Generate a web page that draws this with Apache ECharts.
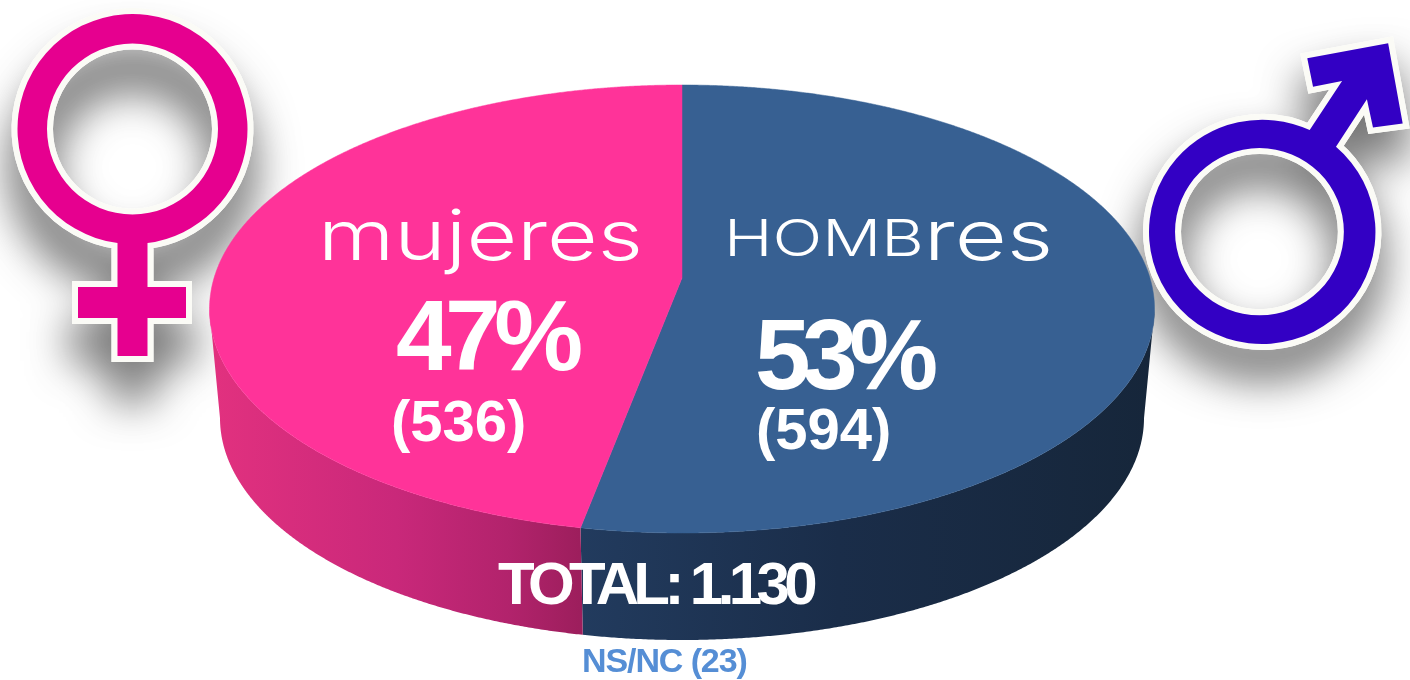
<!DOCTYPE html>
<html><head><meta charset="utf-8">
<style>html,body{margin:0;padding:0;background:#fff}#c{width:1410px;height:680px}</style>
<script src="https://cdn.jsdelivr.net/npm/echarts@6/dist/echarts.min.js"></script>
</head><body><div id="c"></div>
<script>
const categories = ['HOMBres', 'mujeres'];
const sharePct = [53, 47];
const shareLabels = ['53%', '47%'];
const counts = ['(594)', '(536)'];
const totalLabel = 'TOTAL: 1.130';
const noAnswerLabel = 'NS/NC (23)';

const topFace = {cx: 682, cy: 309, rx: 472.5, ry: 224, apexY: 278};
const baseFace = {cx: 682, cy: 418, rx: 462, ry: 222};
const topColors = ['#376092', '#ff3399'];
const sideColors = [
  [[0, '#223b5e'], [0.45, '#1a2d49'], [1, '#16263a']],
  [[0, '#e2317f'], [0.5, '#c9287a'], [0.8, '#b2236c'], [1, '#9c1e5c']]
];
const femalePath = 'M117.5,243 A115,115 0 1 1 147.5,243 L147.5,287 L186,287 L186,318 L147.5,318 L147.5,356 L117.5,356 L117.5,318 L78,318 L78,287 L117.5,287 Z M132.5,43.5 A85.5,85.5 0 1 0 132.5,214.5 A85.5,85.5 0 1 0 132.5,43.5 Z';
const malePath = 'M1336.7,146.7 A112,112 0 1 1 1310.7,130 L1342.7,81 L1314,86.7 L1308.3,58.3 L1388.3,43.3 L1402.7,123.3 L1373.3,127.3 L1367.3,99.3 Z M1261,148 A83.5,83.5 0 1 0 1261,315 A83.5,83.5 0 1 0 1261,148 Z';
const symbols = [
  {path: femalePath, color: '#e6008f', box: {x: 17.5, y: 14, width: 230, height: 342}, shadow: 38},
  {path: malePath, color: '#3300c4', box: {x: 1149, y: 43.3, width: 253.7, height: 300.7}, shadow: 28}
];

// The display type is set tight: per-string tracking for the canvas text.
const tracking = {};
tracking[totalLabel] = '-5.6px';
tracking[shareLabels[1]] = '-6.5px';
tracking[shareLabels[0]] = '-8.5px';
tracking[noAnswerLabel] = '-1.1px';
const fillTextOriginal = CanvasRenderingContext2D.prototype.fillText;
CanvasRenderingContext2D.prototype.fillText = function (t, x, y, m) {
  this.letterSpacing = tracking[t] || '0px';
  if (m === undefined) fillTextOriginal.call(this, t, x, y); else fillTextOriginal.call(this, t, x, y, m);
  this.letterSpacing = '0px';
};

function project(pct) {
  const a = (topFace.apexY - topFace.cy) / topFace.ry;
  const t = 2 * Math.PI * pct / 100, u = Math.sin(t), v = -Math.cos(t);
  const d = 1 + a * v;
  return [u * Math.sqrt(1 - a * a) / d, (v + a) / d];
}
const onFace = (f, p) => [f.cx + f.rx * p[0], f.cy + f.ry * p[1]];

function renderSlice(params, api) {
  const i = params.dataIndex;
  const share = api.value(0);
  let start = 0;
  for (let k = 0; k < i; k++) start += sharePct[k];
  const arc = [];
  const n = 720;
  for (let k = 0; k <= n; k++) arc.push(project(start + share * k / n));
  const lower = arc.filter(p => p[1] >= 0);
  const side = lower.map(p => onFace(topFace, p)).concat(lower.slice().reverse().map(p => onFace(baseFace, p)));
  const top = [[topFace.cx, topFace.apexY]].concat(arc.map(p => onFace(topFace, p)));
  return {type: 'group', children: [
    {type: 'polygon', shape: {points: side}, style: {
      fill: {type: 'linear', x: 0, y: 0, x2: 1, y2: 0,
        colorStops: sideColors[i].map(s => ({offset: s[0], color: s[1]}))}}},
    {type: 'polygon', shape: {points: top}, style: {fill: topColors[i], stroke: topColors[i], lineWidth: 0.5}}
  ]};
}
function symbolEl(s, style) {
  return {type: 'path', shape: Object.assign({pathData: s.path, layout: 'cover'}, s.box), style};
}
function renderShadow(params) {
  const s = symbols[params.dataIndex];
  return symbolEl(s, {fill: '#fff', stroke: '#fff', lineWidth: 12, lineJoin: 'miter',
    shadowColor: 'rgba(0,0,0,0.5)', shadowBlur: 44, shadowOffsetX: 0, shadowOffsetY: s.shadow});
}
function renderSymbol(params) {
  const s = symbols[params.dataIndex];
  return {type: 'group', children: [
    symbolEl(s, {fill: '#fff', stroke: '#fbfbf6', lineWidth: 12, lineJoin: 'miter'}),
    symbolEl(s, {fill: s.color})
  ]};
}
const BOLD = '"Liberation Sans", Arial, sans-serif';
const THIN = 'Inter, Lato, sans-serif';
function label(text, x, y, size, color) {
  return {type: 'text', x, y, style: {text, x: 0, y: 0, fill: color || '#fff', font: 'bold ' + size + 'px ' + BOLD,
    align: 'left', verticalAlign: 'middle'}};
}
function renderLabels() {
  return {type: 'group', children: [
    {type: 'text', x: 318, y: 239, scaleX: 1.25, style: {text: categories[1], x: 0, y: 0, fill: '#fff',
      font: '300 70px ' + THIN, align: 'left', verticalAlign: 'middle'}},
    {type: 'text', x: 724, y: 239, scaleX: 1.285, style: {
      text: '{a|' + categories[0].slice(0, 4) + '}{b|' + categories[0].slice(4) + '}', x: 0, y: 0, align: 'left', verticalAlign: 'middle',
      rich: {
        a: {fontFamily: THIN, fontSize: 51, fontWeight: 300, fill: '#fff', padding: [4, 0, 0, 0]},
        b: {fontFamily: THIN, fontSize: 70, fontWeight: 300, fill: '#fff'}
      }}},
    label(shareLabels[1], 396, 342, 100),
    label(shareLabels[0], 755, 361, 100),
    label(counts[1], 391, 425, 58),
    label(counts[0], 756, 433, 58),
    label(totalLabel, 498, 587, 60),
    label(noAnswerLabel, 582, 663, 34, '#558ed5')
  ]};
}
const one = symbols.map((s, i) => [i]);
const chart = echarts.init(document.getElementById('c'), null, {renderer: 'canvas'});
chart.setOption({
  animation: false, backgroundColor: '#fff',
  series: [
    {type: 'custom', coordinateSystem: 'none', name: 'shadow', silent: true, z: 1, data: one, renderItem: renderShadow},
    {type: 'custom', coordinateSystem: 'none', name: 'genero', silent: true, z: 2,
      data: sharePct.map((v, i) => ({name: categories[i], value: [v, i]})), renderItem: renderSlice},
    {type: 'custom', coordinateSystem: 'none', name: 'symbols', silent: true, z: 3, data: one, renderItem: renderSymbol},
    {type: 'custom', coordinateSystem: 'none', name: 'labels', silent: true, z: 4, data: [[0]], renderItem: renderLabels}
  ]
});
</script></body></html>
